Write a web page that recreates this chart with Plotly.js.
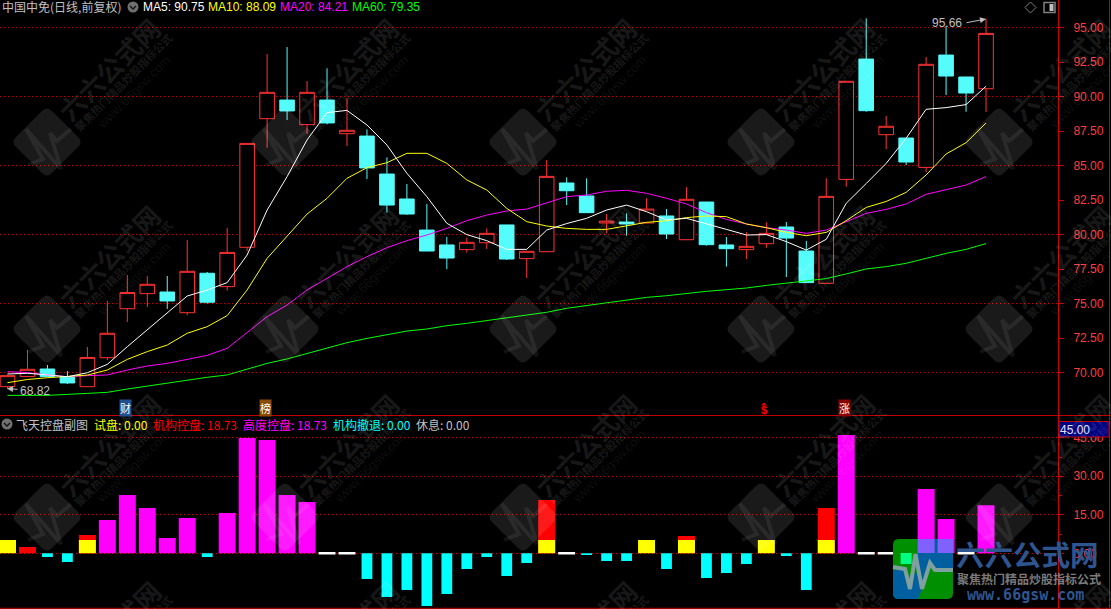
<!DOCTYPE html>
<html><head><meta charset="utf-8">
<script src="https://cdn.plot.ly/plotly-3.0.1.min.js"></script>
<style>html,body{margin:0;padding:0;background:#000;overflow:hidden}#c{width:1111px;height:609px}
.cartesianlayer .plot path{shape-rendering:crispEdges}</style>
</head><body><div id="c"></div><script>
const opens =[68.98,69.71,70.26,69.71,68.98,71.08,74.63,75.72,75.84,74.34,77.2,76.23,79.08,88.4,89.75,87.97,89.75,87.31,87.14,84.39,82.58,80.33,79.25,78.91,79.41,80.7,78.26,78.76,83.74,82.8,80.84,80.91,80.84,81.35,79.63,82.36,79.25,78.91,79.34,80.55,78.81,76.47,84.0,92.72,87.24,87,84.87,93.01,91.42,90.57];
const closes=[69.78,70.24,69.71,69.25,71.1,72.85,75.8,76.4,75.19,77.34,75.1,78.71,86.61,90.31,88.96,90.31,88.09,87.56,84.83,82.14,81.49,78.81,78.3,79.44,80.09,78.23,78.79,84.22,83.18,81.59,80.98,80.77,81.85,80.04,82.56,79.27,78.98,79.15,80.09,79.75,76.52,82.77,91.11,88.98,87.85,85.26,92.34,91.49,90.26,94.58];
const highs =[69.85,71.64,70.55,70.11,71.86,75.19,77.07,77.0,77.0,79.6,77.29,80.48,86.61,93.09,93.59,91.13,92.05,89.9,87.63,85.6,83.67,82.22,79.83,79.78,80.45,80.7,78.79,85.41,84.15,84.08,81.49,81.54,82.63,81.85,83.43,82.36,79.83,80.19,80.89,80.91,79.54,84.08,91.11,95.67,88.59,87,92.87,95.12,91.42,95.66];
const lows  =[68.82,69.7,69.7,69.17,68.98,70.9,73.67,74.75,74.61,74.17,74.99,75.94,78.8,86.3,88.3,87.29,87.99,86.42,84.03,81.59,81.42,78.81,77.5,78.69,78.96,78.16,76.86,78.76,82.14,81.59,80.09,79.92,80.8,79.68,79.63,79.2,77.68,78.23,79.05,76.93,76.52,76.47,83.47,88.9,86.2,85.04,84.51,90.12,88.9,88.88];
const ma5 =[69.9,69.95,69.83,69.7,69.99,70.6,71.88,73.09,74.3,75.55,75.98,76.52,78.52,81.78,84.2,86.86,88.84,89.0,87.94,86.49,84.44,82.75,80.82,80.0,79.56,78.93,78.93,80.33,80.8,81.18,81.78,82.14,81.66,81.06,81.18,80.8,80.38,79.97,80.0,79.49,78.88,79.66,82.27,83.7,85.16,86.98,89.08,89.2,89.42,90.75];
const ma10=[69.27,69.5,69.63,69.7,69.82,70.19,70.96,71.52,72.0,72.85,73.33,74.13,75.99,78.28,79.85,81.49,82.63,84.08,84.85,85.21,85.89,85.89,85.16,83.96,83.23,81.9,80.94,80.62,80.45,80.38,80.38,80.62,80.89,81.0,81.23,81.35,81.3,80.77,80.5,80.16,79.92,80.16,81.01,81.97,82.4,83.06,84.32,85.84,86.66,88.09];
const ma20=[70.07,70.0,69.83,69.7,69.78,69.83,70.19,70.48,70.67,70.96,71.25,71.76,72.89,74.05,74.9,75.99,76.83,77.68,78.4,79.05,79.56,79.97,80.45,81.01,81.42,81.71,81.85,82.31,82.75,82.87,83.14,83.21,82.99,82.63,82.22,81.59,81.1,80.77,80.5,80.33,80.09,80.33,80.94,81.54,81.83,82.22,82.92,83.23,83.59,84.21];
const ma60=[68.35,68.35,68.35,68.42,68.5,68.57,68.81,69.03,69.27,69.47,69.66,69.83,70.24,70.67,70.99,71.4,71.76,72.17,72.48,72.77,73.01,73.16,73.4,73.57,73.76,74.0,74.17,74.37,74.66,74.85,75.09,75.28,75.45,75.57,75.74,75.89,76.01,76.13,76.32,76.47,76.64,76.81,77.15,77.51,77.68,77.92,78.28,78.64,78.93,79.35];
const N=null;
const shiPan =[5.2,N,N,N,5.2,N,N,N,N,N,N,N,N,N,N,N,N,N,N,N,N,N,N,N,N,N,N,5.2,N,N,N,N,5.2,N,5.2,N,N,N,5.2,N,N,5.2,N,N,N,N,N,N,N,N];
const jiGou  =[N,2.47,N,N,7.14,N,N,N,N,N,N,N,N,N,N,N,N,N,N,N,N,N,N,N,N,N,N,20.76,N,N,N,N,N,N,6.73,N,N,N,N,N,N,17.66,N,N,N,N,N,N,N,N];
const gaoDu  =[N,N,N,N,N,12.97,22.7,17.66,5.96,13.75,N,15.7,44.9,44.1,22.7,19.98,N,N,N,N,N,N,N,N,N,N,N,N,N,N,N,N,N,N,N,N,N,N,N,N,N,N,46.1,N,N,N,25.05,13.36,N,18.73];
const cheTui =[N,N,-1.43,-3.38,N,N,N,N,N,N,-1.43,N,N,N,N,N,N,N,-10,-17,-14.3,-20.5,-15.85,-6.1,-1.43,-8.85,-3.78,N,N,-0.65,-3,-3,N,-6.1,N,-9.6,-7.66,-4.15,N,-1.04,-14.3,N,N,N,N,-4.3,N,N,N,N];
const xiuXi  =[N,N,N,N,N,N,N,N,N,N,N,N,N,N,N,N,1,1,N,N,N,N,N,N,N,N,N,N,1,N,N,N,N,N,N,N,N,N,N,N,N,N,N,1,1,N,N,N,1,N];
const priceTicks=[70,72.5,75,77.5,80,82.5,85,87.5,90,92.5,95];
const subTicks=[0,15,30,45];
const maLabels=[["MA5: 90.75","#ffffff",143],["MA10: 88.09","#ffff00",208],["MA20: 84.21","#ff00ff",280],["MA60: 79.35","#00ff00",352]];
const subLabels=[["飞天控盘副图","#c0c0c0",16],["试盘: 0.00","#ffff00",94],["机构控盘: 18.73","#ff0000",153],["高度控盘: 18.73","#ff00ff",243],["机构撤退: 0.00","#00ffff",333],["休息: 0.00","#c0c0c0",416]];

const W=1111,H=609,AX=1058,DIV=415.5;
const days=opens.map((_,i)=>i);
const XS=19.97;
const X0=-7.5/XS, X1=(AX-7.5)/XS;
const px=x=>x/W, py=y=>1-y/H;
const CJK='"Noto Sans CJK SC","Liberation Sans",sans-serif', LAT='"Liberation Sans",Arial,sans-serif';

const barT=(y,color,w,extra)=>Object.assign({type:'bar',x:days,y,xaxis:'x2',yaxis:'y2',marker:{color,line:{width:0}},width:w,hoverinfo:'skip',showlegend:false},extra||{});
const lineT=(y,color)=>({type:'scatter',mode:'lines',x:days,y,xaxis:'x',yaxis:'y3',line:{color,width:1},hoverinfo:'skip',showlegend:false});
const traces=[
 {type:'candlestick',x:days,open:opens,high:highs,low:lows,close:closes,xaxis:'x',yaxis:'y',whiskerwidth:0,hoverinfo:'skip',showlegend:false,
  increasing:{line:{color:'#ff3232',width:1},fillcolor:'#000000'},decreasing:{line:{color:'#54fcfc',width:1},fillcolor:'#54fcfc'}},
 lineT(ma60,'#00ff00'),lineT(ma20,'#ff00ff'),lineT(ma10,'#ffff00'),lineT(ma5,'#ffffff'),
 barT(jiGou,'#ff0000',.85),barT(shiPan,'#ffff00',.85),barT(gaoDu,'#ff00ff',.85),barT(cheTui,'#00ffff',.54),
 barT(xiuXi,'#ffffff',.85,{base:-0.5})
];

const shapes=[],ann=[];
const P=(d,fill,line,lw)=>shapes.push({type:'path',path:d,xref:'paper',yref:'paper',fillcolor:fill||'rgba(0,0,0,0)',line:{color:line||'rgba(0,0,0,0)',width:lw||0},layer:'above'});
const pts=(a,close)=>'M'+a.map(p=>px(p[0])+','+py(p[1])).join('L')+(close?'Z':'');
function txt(t,x,y,color,size,o){ann.push(Object.assign({text:t,xref:'paper',yref:'paper',x:px(x-2),y:py(y),xanchor:'left',yanchor:'middle',showarrow:false,font:{family:CJK,size,color}},o||{}));}
function wm(t,x,y,color,size,fam){ann.push({text:t,xref:'paper',yref:'paper',x:px(x),y:py(y),xanchor:'center',yanchor:'middle',textangle:-45,showarrow:false,font:{family:fam,size,color}});}

// watermark tiles
const wmX=[47,285,523,761,999],wmY=[142,329,517,704];
wmY.forEach(cy=>wmX.forEach(cx=>{
  if(cy<650){
    const R=36,r=7;
    const e=[[0,-R],[R,0],[0,R],[-R,0]];
    let d='';
    e.forEach((v,i)=>{
      const a=e[(i+3)%4],b=e[(i+1)%4];
      const s=[v[0]+(a[0]-v[0])*r/R/1.4,v[1]+(a[1]-v[1])*r/R/1.4],t=[v[0]+(b[0]-v[0])*r/R/1.4,v[1]+(b[1]-v[1])*r/R/1.4];
      d+=(i?'L':'M')+px(cx+s[0])+','+py(cy+s[1])+'Q'+px(cx+v[0])+','+py(cy+v[1])+' '+px(cx+t[0])+','+py(cy+t[1]);
    });
    P(d+'Z','rgba(255,255,255,0.10)');
    const h=[[-19,23],[-4,17],[-21,-13],[14,27],[3,-9],[10,-1],[24,-13]].map(p=>[cx+p[0],cy+p[1]]);
    P(pts(h),null,'rgba(255,255,255,0.07)',4);
  }
  wm('<b>六六公式网</b>',cx+62,cy-73,'rgba(255,255,255,0.11)',26,CJK);
  wm('<b>聚焦热门精品炒股指标公式</b>',cx+76,cy-60,'rgba(255,255,255,0.10)',11,CJK);
  wm('www.66gsw.com',cx+86,cy-50,'rgba(255,255,255,0.07)',13,LAT);
}));

// borders
[[0,DIV,W,DIV],[0,608.3,W,608.3],[1109.5,0,1109.5,609]].forEach(l=>shapes.push({type:'line',xref:'paper',yref:'paper',x0:px(l[0]),y0:py(l[1]),x1:px(l[2]),y1:py(l[3]),line:{color:'#c00000',width:1},layer:'above'}));
// 45.00 value box
shapes.push({type:'rect',xref:'paper',yref:'paper',x0:px(1059),y0:py(421.5),x1:px(1109),y1:py(437),fillcolor:'#000080',line:{color:'#c00000',width:1},layer:'above'});

// buttons and icons
[[133,7],[7,424]].forEach(c=>{
  shapes.push({type:'circle',xref:'paper',yref:'paper',x0:px(c[0]-5.5),y0:py(c[1]-5.5),x1:px(c[0]+5.5),y1:py(c[1]+5.5),fillcolor:'#707070',line:{width:0},layer:'above'});
  P(pts([[c[0]-3,c[1]-1],[c[0],c[1]+2],[c[0]+3,c[1]-1]]),null,'#111111',1.3);
});
P(pts([[1030.5,2],[1036,7.5],[1030.5,13],[1025,7.5]],true),null,'#808080',1);
shapes.push({type:'rect',xref:'paper',yref:'paper',x0:px(1044),y0:py(2.5),x1:px(1055),y1:py(12.5),line:{color:'#808080',width:1.5},fillcolor:'#000',layer:'above'});
shapes.push({type:'rect',xref:'paper',yref:'paper',x0:px(1049.5),y0:py(4),x1:px(1053.5),y1:py(11),line:{width:0},fillcolor:'#c0c0c0',layer:'above'});

// header text
txt('中国中免(日线,前复权)',2,7,'#c0c0c0',12);
maLabels.forEach(m=>txt(m[0],m[2],7,m[1],12,{font:{family:LAT,size:12,color:m[1]}}));
subLabels.forEach(m=>txt(m[0],m[2],424,m[1],12,{font:{family:CJK,size:12,color:m[1]}}));
txt('45.00',1060,429.5,'#e0e0ff',12,{font:{family:LAT,size:12,color:'#e0e0ff'}});

// high / low marks
txt('95.66',932,23,'#c0c0c0',12,{font:{family:LAT,size:12,color:'#c0c0c0'}});
ann.push({text:'',xref:'paper',yref:'paper',x:px(986),y:py(19),axref:'pixel',ayref:'pixel',ax:-21,ay:4,showarrow:true,arrowhead:2,arrowsize:1.2,arrowwidth:1,arrowcolor:'#c0c0c0'});
txt('68.82',20,390.5,'#c0c0c0',12,{font:{family:LAT,size:12,color:'#c0c0c0'}});
ann.push({text:'',xref:'paper',yref:'paper',x:px(7),y:py(388.5),axref:'pixel',ayref:'pixel',ax:12,ay:1,showarrow:true,arrowhead:2,arrowsize:1.2,arrowwidth:1,arrowcolor:'#c0c0c0'});

// event badges
[[6,'财','#1f4f8f'],[13,'榜','#8a4a00'],[42,'涨','#8b0000']].forEach(b=>ann.push({text:b[1],xref:'x',yref:'paper',x:b[0]-0.07,y:py(407.5),xanchor:'center',yanchor:'middle',showarrow:false,font:{family:CJK,size:11,color:'#ffffff'},bgcolor:b[2],borderpad:0}));
ann.push({text:'<b>$</b>',xref:'x',yref:'paper',x:37.9,y:py(409.5),xanchor:'center',yanchor:'middle',showarrow:false,font:{family:LAT,size:11,color:'#ff0000'}});
P(pts([[764,402.5],[767,405.5],[761,405.5]],true),'#ff0000');

// site logo
const LX=893,LY=539,LS=60,LR=6;
const rr=(x,y,w,h,r)=>'M'+px(x+r)+','+py(y)+'L'+px(x+w-r)+','+py(y)+'Q'+px(x+w)+','+py(y)+' '+px(x+w)+','+py(y+r)+'L'+px(x+w)+','+py(y+h-r)+'Q'+px(x+w)+','+py(y+h)+' '+px(x+w-r)+','+py(y+h)+'L'+px(x+r)+','+py(y+h)+'Q'+px(x)+','+py(y+h)+' '+px(x)+','+py(y+h-r)+'L'+px(x)+','+py(y+r)+'Q'+px(x)+','+py(y)+' '+px(x+r)+','+py(y)+'Z';
P(rr(LX,LY,LS,LS,LR),'#008f00');
const heart=[[893,567],[905,569],[910,589],[915.5,554],[922,589],[930,563],[935,570],[953,570]];
P(pts([[918,539],[947,539],[953,545],[953,570],[935,570],[930,563],[922,589],[918,570]],true),'#005f9f');
P('M'+px(893)+','+py(570)+'L'+px(905)+','+py(570)+'L'+px(910)+','+py(589)+'L'+px(915.5)+','+py(570)+'L'+px(922)+','+py(589)+'L'+px(918)+','+py(599)+'L'+px(899)+','+py(599)+'Q'+px(893)+','+py(599)+' '+px(893)+','+py(593)+'Z','#005f9f');
// where the logo lies over the bars
const b46=[7.5+46*XS,7.5+47*XS];
[b46[0],b46[1]].forEach(c=>P(pts([[c-8.5,LY],[Math.min(c+8.5,953),LY],[Math.min(c+8.5,953),553],[c-8.5,553]],true),'#8060ff'));
const c45=7.5+45*XS;
P(pts([[c45-5.5,553],[c45+5.5,553],[c45+5.5,564],[c45-5.5,564]],true),'#00ff80');
P(pts(heart),null,'#80a0a0',4);
txt('<b>六六公式网</b>',956,553,'#2f5590',28.5);
txt('<b>聚焦热门精品炒股指标公式</b>',957,578,'#7a7a7a',12);
txt('<b>www.66gsw.com</b>',967,595,'#2f5590',15,{font:{family:'"DejaVu Sans Mono",monospace',size:15,color:'#2f5590'}});

const priceRange=[97-DIV/13.8,97], subRange=[(553.3-608.3)/2.567,(553.3-DIV)/2.567];
const gridCol='#c80000', axCol='#c80000', tickFont={family:LAT,size:12,color:'#ff3c3c'};
const layout={
 width:W,height:H,margin:{l:0,r:0,t:0,b:0,pad:0},paper_bgcolor:'#000',plot_bgcolor:'#000',dragmode:false,showlegend:false,
 barmode:'overlay',boxgap:.27,boxgroupgap:0,
 xaxis:{domain:[0,AX/W],range:[X0,X1],visible:false,anchor:'y',rangeslider:{visible:false},type:'linear'},
 xaxis2:{domain:[0,AX/W],range:[X0,X1],visible:false,anchor:'y2',type:'linear'},
 yaxis:{domain:[py(DIV),1],range:priceRange,side:'right',anchor:'x',tickmode:'array',tickvals:priceTicks,ticktext:priceTicks.map(v=>v.toFixed(2)),
   showgrid:false,zeroline:false,showline:true,linecolor:axCol,linewidth:1,ticks:'outside',ticklen:5,tickcolor:axCol,tickwidth:1,tickfont:tickFont,ticklabelstandoff:7},
 yaxis3:{domain:[py(DIV),1],range:priceRange,overlaying:'y',side:'right',anchor:'x',dtick:5,tick0:0,showticklabels:false,ticks:'',showgrid:true,gridcolor:gridCol,griddash:'1px,3px',gridwidth:1,zeroline:false,showline:false},
 yaxis2:{domain:[py(608.3),py(DIV)],range:subRange,side:'right',anchor:'x2',tickmode:'array',tickvals:subTicks,ticktext:subTicks.map(v=>v.toFixed(2)),
   showgrid:true,gridcolor:gridCol,griddash:'1px,3px',gridwidth:1,zeroline:false,showline:true,linecolor:axCol,linewidth:1,ticks:'outside',ticklen:5,tickcolor:axCol,tickwidth:1,tickfont:tickFont,ticklabelstandoff:7,
   minor:{tickvals:[7.5,22.5,37.5],ticks:'outside',ticklen:3,tickcolor:axCol,showgrid:false}},
 shapes,annotations:ann
};
Plotly.newPlot('c',traces,layout,{staticPlot:true,displayModeBar:false});
</script></body></html>
